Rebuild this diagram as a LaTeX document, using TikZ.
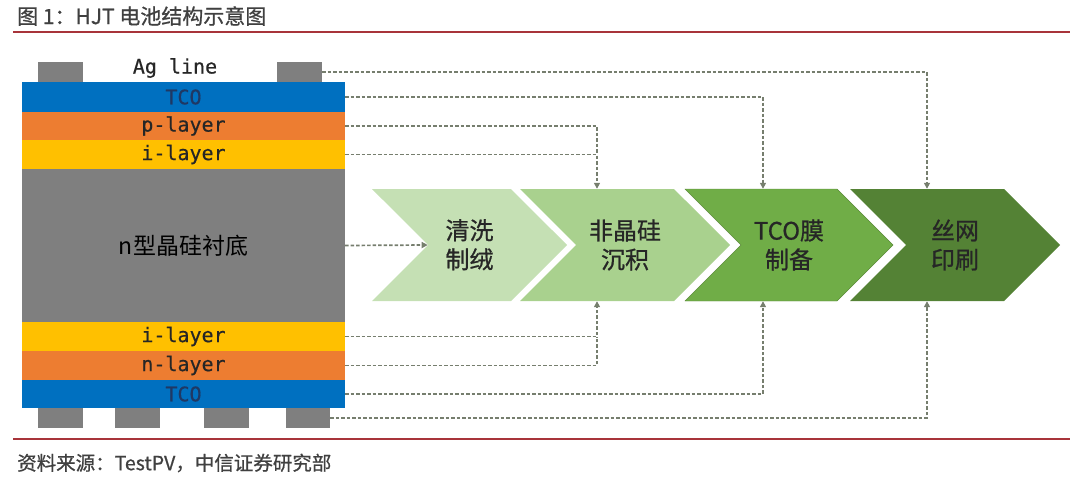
\documentclass[tikz,border=0pt]{standalone}
\usepackage{fontspec}
\setmainfont{Noto Sans CJK SC}
\setmonofont{DejaVu Sans Mono}[FakeBold=0.5]
\newfontfamily\cjkmid{Noto Sans CJK SC}[FakeBold=0.8]
\usepackage{xcolor}
\definecolor{hjtBlue}{HTML}{0070C0}
\definecolor{hjtOrange}{HTML}{ED7D31}
\definecolor{hjtYellow}{HTML}{FFC000}
\definecolor{hjtGray}{HTML}{7F7F7F}
\definecolor{hjtNavy}{HTML}{1F3864}
\definecolor{hjtText}{HTML}{262626}
\definecolor{hjtTitle}{HTML}{404040}
\definecolor{hjtRed}{HTML}{A8343A}
\definecolor{hjtConn}{HTML}{767E6E}
\definecolor{stepA}{HTML}{C5E0B4}
\definecolor{stepB}{HTML}{A9D18E}
\definecolor{stepC}{HTML}{70AD47}
\definecolor{stepD}{HTML}{548235}
\usepackage{tikz}
\usetikzlibrary{shapes.symbols,arrows.meta,positioning,calc}
\tikzset{
    layer/.style={
        rectangle,
        inner sep=0pt,
        minimum width=323pt,
        font=\ttfamily\fontsize{20}{22}\selectfont,
        text=hjtText
    },
    pad/.style={
        rectangle,
        fill=hjtGray,
        inner sep=0pt,
        minimum width=45pt,
        minimum height=20pt
    },
    chev/.style={
        signal,
        signal from=west,
        signal to=east,
        signal pointer angle=90,
        inner sep=0pt,
        minimum height=112pt,
        align=center,
        text=hjtText,
        font=\cjkmid\fontsize{24}{29}\selectfont
    },
    conn/.style={
        draw=hjtConn,
        line width=1.7pt,
        dash pattern=on 3.5pt off 2pt
    },
    connarrow/.style={
        conn,
        -{Triangle[length=6pt,width=6pt,fill=hjtConn!60!stepC]}
    },
    rule/.style={
        draw=hjtRed,
        line width=1.6pt
    }
}

\begin{document}
\begin{tikzpicture}[x=1pt,y=-1pt]
    \useasboundingbox (0,0) rectangle (1080,477);

    % Title and rules
    \node[anchor=west, inner sep=0pt, text=hjtTitle, font=\cjkmid\fontsize{21}{25}\selectfont] (title) at (17,16) {图 1：HJT 电池结构示意图};
    \draw[rule] (13,32) -- (1070,32);
    \draw[rule] (13,439) -- (1070,439);
    \node[anchor=west, inner sep=0pt, text=hjtTitle, font=\cjkmid\fontsize{19.5}{23}\selectfont] (source) at (17,463) {资料来源：TestPV，中信证券研究部};

    % Cell stack
    \node[pad] (padT1) at (60.5,72) {};
    \node[pad] (padT2) at (299.5,72) {};
    \node[layer] (agline) at (175,68) {Ag line};
    \node[layer, fill=hjtBlue, minimum height=30pt, text=hjtNavy] (tcoT) at (183.5,97) {TCO};
    \node[layer, fill=hjtOrange, minimum height=28pt] (pL) at (183.5,126) {p-layer};
    \node[layer, fill=hjtYellow, minimum height=29pt] (iT) at (183.5,154.5) {i-layer};
    \node[layer, fill=hjtGray, minimum height=153pt, text=black, font=\fontsize{23}{26}\selectfont] (sub) at (183.5,245.5) {n型晶硅衬底};
    \node[layer, fill=hjtYellow, minimum height=29pt] (iB) at (183.5,336.5) {i-layer};
    \node[layer, fill=hjtOrange, minimum height=29pt] (nL) at (183.5,365.5) {n-layer};
    \node[layer, fill=hjtBlue, minimum height=28pt, text=hjtNavy] (tcoB) at (183.5,394) {TCO};
    \node[pad] (padB1) at (60.5,418) {};
    \node[pad] (padB2) at (137.5,418) {};
    \node[pad] (padB3) at (226.5,418) {};
    \node[pad, minimum width=44pt] (padB4) at (308,418) {};

    % Process steps
    \node[chev, fill=stepA, minimum width=195pt] (clean) at (469.5,245) {清洗\\制绒};
    \node[chev, fill=stepB, minimum width=210pt] (amorph) at (625,245) {非晶硅\\沉积};
    \node[chev, fill=stepC, draw=stepD!80!stepC, minimum width=208pt] (tcofilm) at (789,245) {TCO膜\\制备};
    \node[chev, fill=stepD, minimum width=210pt] (print) at (955,245) {丝网\\印刷};

    % Drop columns
    \coordinate (colA) at (597,0);
    \coordinate (colB) at (763,0);
    \coordinate (colC) at (927,0);

    % Connectors
    \draw[connarrow] (padT2.east) -| (colC |- print.north);
    \draw[connarrow] (tcoT.east) -| (colB |- tcofilm.north);
    \draw[conn] (pL.east) -| (colA |- iT.east);
    \draw[connarrow] (iT.east) -| (colA |- amorph.north);
    \draw[connarrow] (sub.east) -- (clean.west);
    \draw[connarrow] (iB.east) -| (colA |- amorph.south);
    \draw[conn] (nL.east) -| (colA |- iB.east);
    \draw[connarrow] (tcoB.east) -| (colB |- tcofilm.south);
    \draw[connarrow] (padB4.east) -| (colC |- print.south);
\end{tikzpicture}
\end{document}
